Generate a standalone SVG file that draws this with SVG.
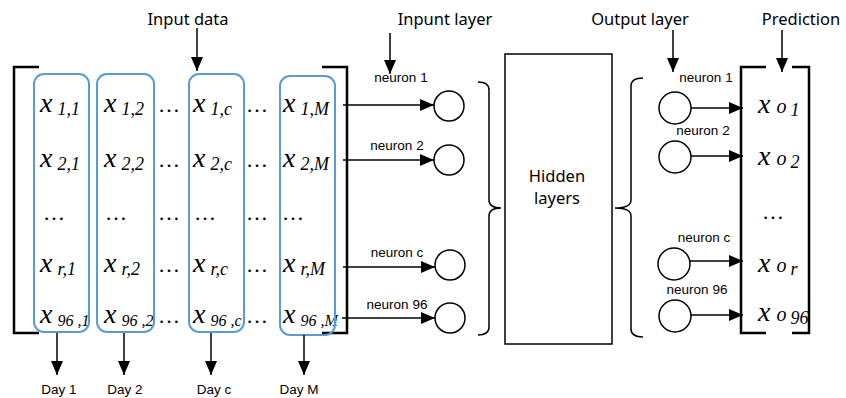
<svg xmlns="http://www.w3.org/2000/svg" width="846" height="398" viewBox="0 0 846 398">
<defs>
<marker id="ah" markerUnits="userSpaceOnUse" markerWidth="14" markerHeight="12" refX="14" refY="6" orient="auto"><path d="M0,0 L14,6 L0,12 z" fill="#000"/></marker>
<style>
.lbl{font-family:"Noto Sans","Open Sans",sans-serif;font-size:16.5px;fill:#000;text-anchor:middle}
.sm{font-family:"Liberation Sans",Arial,sans-serif;font-size:13.5px;fill:#000;text-anchor:middle}
.mx{font-family:"Liberation Serif","Times New Roman",serif;font-style:italic;font-size:28px;fill:#000}
.sb{font-size:18px}
.sb96{font-size:16px}
.dots{font-family:"Liberation Serif","Times New Roman",serif;font-size:22px;fill:#000}
.col{fill:none;stroke:#5b9bd5;stroke-width:2}
.brk{fill:none;stroke:#000;stroke-width:2.5}
.ln{fill:none;stroke:#000;stroke-width:1.5}
.arr{fill:none;stroke:#000;stroke-width:1.5;marker-end:url(#ah)}
.neu{fill:#fff;stroke:#000;stroke-width:1.5}
</style>
</defs>
<rect width="846" height="398" fill="#fff"/>

<g id="labels">
<text class="lbl" x="188" y="25">Input data</text>
<text class="lbl" x="445" y="25">Inpunt layer</text>
<text class="lbl" x="640" y="25">Output layer</text>
<text class="lbl" x="801" y="25">Prediction</text>
</g>

<g id="input-matrix">
<path class="brk" d="M39,67 H14 V333 H39"/>
<path class="brk" d="M322,67 H347 V333 H322"/>
<g id="matrix-text">
<text class="mx" x="40" y="112">x<tspan class="sb" dx="5" dy="3">1,1</tspan></text>
<text class="mx" x="104" y="112">x<tspan class="sb" dx="5" dy="3">1,2</tspan></text>
<text class="dots" x="158" y="112">…</text>
<text class="mx" x="193" y="112">x<tspan class="sb" dx="5" dy="3">1,c</tspan></text>
<text class="dots" x="246" y="112">…</text>
<text class="mx" x="283" y="112">x<tspan class="sb" dx="5" dy="3">1,M</tspan></text>

<text class="mx" x="40" y="167">x<tspan class="sb" dx="5" dy="3">2,1</tspan></text>
<text class="mx" x="104" y="167">x<tspan class="sb" dx="5" dy="3">2,2</tspan></text>
<text class="dots" x="158" y="167">…</text>
<text class="mx" x="193" y="167">x<tspan class="sb" dx="5" dy="3">2,c</tspan></text>
<text class="dots" x="246" y="167">…</text>
<text class="mx" x="283" y="167">x<tspan class="sb" dx="5" dy="3">2,M</tspan></text>

<text class="dots" x="43" y="220">…</text>
<text class="dots" x="105" y="220">…</text>
<text class="dots" x="158" y="220">…</text>
<text class="dots" x="194" y="220">…</text>
<text class="dots" x="246" y="220">…</text>
<text class="dots" x="282" y="220">…</text>

<text class="mx" x="40" y="272">x<tspan class="sb" dx="5" dy="3">r,1</tspan></text>
<text class="mx" x="104" y="272">x<tspan class="sb" dx="5" dy="3">r,2</tspan></text>
<text class="dots" x="158" y="272">…</text>
<text class="mx" x="193" y="272">x<tspan class="sb" dx="5" dy="3">r,c</tspan></text>
<text class="dots" x="246" y="272">…</text>
<text class="mx" x="283" y="272">x<tspan class="sb" dx="5" dy="3">r,M</tspan></text>

<text class="mx" x="40" y="323">x<tspan class="sb96" dx="5" dy="3">96 ,1</tspan></text>
<text class="mx" x="104" y="323">x<tspan class="sb96" dx="5" dy="3">96 ,2</tspan></text>
<text class="dots" x="158" y="323">…</text>
<text class="mx" x="193" y="323">x<tspan class="sb96" dx="5" dy="3">96 ,c</tspan></text>
<text class="dots" x="246" y="323">…</text>
<text class="mx" x="283" y="323">x<tspan class="sb96" dx="5" dy="3">96 ,M</tspan></text>
</g>
<g id="day-columns">
<rect id="day1" class="col" x="34" y="74" width="55" height="258" rx="10"/>
<rect id="day2" class="col" x="97" y="74" width="57" height="258" rx="10"/>
<rect id="dayc" class="col" x="189" y="74" width="55" height="258" rx="10"/>
<rect id="dayM" class="col" x="280" y="76" width="55" height="259" rx="10"/>
</g>
<text class="sm" x="59" y="394">Day 1</text>
<text class="sm" x="125" y="394">Day 2</text>
<text class="sm" x="214" y="394">Day c</text>
<text class="sm" x="299" y="394">Day M</text>
</g>

<g id="input-layer">
<text class="sm" x="401" y="82">neuron 1</text>
<text class="sm" x="397" y="150">neuron 2</text>
<text class="sm" x="397" y="257">neuron c</text>
<text class="sm" x="397" y="309">neuron 96</text>
<circle class="neu" cx="449" cy="106" r="15"/>
<circle class="neu" cx="449" cy="160" r="15"/>
<circle class="neu" cx="450" cy="265" r="15"/>
<circle class="neu" cx="450" cy="318" r="15"/>
<path class="ln" d="M478,82 Q489,82 489,90 L489,200 Q489,208 501,208 Q489,208 489,216 L489,327 Q489,335 478,335"/>
</g>

<g id="hidden-layers">
<rect class="ln" x="505" y="54" width="107" height="290" fill="none"/>
<text class="lbl" x="557" y="182">Hidden</text>
<text class="lbl" x="557" y="204">layers</text>
</g>

<g id="output-layer">
<path class="ln" d="M643,78 Q631,78 631,86 L631,200 Q631,208 615,208 Q631,208 631,216 L631,329 Q631,337 643,337"/>
<text class="sm" x="706" y="82">neuron 1</text>
<text class="sm" x="703" y="135">neuron 2</text>
<text class="sm" x="704" y="242">neuron c</text>
<text class="sm" x="697" y="294">neuron 96</text>
<circle class="neu" cx="675" cy="108" r="16"/>
<circle class="neu" cx="675" cy="157" r="16"/>
<circle class="neu" cx="674" cy="264" r="16"/>
<circle class="neu" cx="675" cy="316" r="16"/>
</g>

<g id="prediction">
<path class="brk" d="M766,67 H741 V333 H766"/>
<path class="brk" d="M792,67 H809 V333 H792"/>
<text class="mx" x="758" y="113">x<tspan font-size="20" dx="6">o</tspan><tspan class="sb" dx="4" dy="3">1</tspan></text>
<text class="mx" x="758" y="165">x<tspan font-size="20" dx="6">o</tspan><tspan class="sb" dx="4" dy="3">2</tspan></text>
<text class="dots" x="762" y="219">…</text>
<text class="mx" x="758" y="272">x<tspan font-size="20" dx="6">o</tspan><tspan class="sb" dx="4" dy="3">r</tspan></text>
<text class="mx" x="758" y="321">x<tspan font-size="20" dx="6">o</tspan><tspan class="sb" dx="4" dy="3">96</tspan></text>
</g>

<g id="connectors">
<line class="arr" x1="197" y1="28" x2="197" y2="71"/>
<line class="arr" x1="390" y1="33" x2="390" y2="74"/>
<line class="arr" x1="673" y1="30" x2="673" y2="72"/>
<line class="arr" x1="782" y1="30" x2="782" y2="72"/>
<line class="arr" x1="57" y1="333" x2="57" y2="375"/>
<line class="arr" x1="124" y1="333" x2="124" y2="375"/>
<line class="arr" x1="211" y1="333" x2="211" y2="375"/>
<line class="arr" x1="304" y1="335" x2="304" y2="375"/>
<line class="arr" x1="343" y1="105" x2="434" y2="105"/>
<line class="arr" x1="343" y1="160" x2="434" y2="160"/>
<line class="arr" x1="343" y1="267" x2="435" y2="267"/>
<line class="arr" x1="342" y1="318" x2="435" y2="318"/>
<line class="arr" x1="691" y1="108" x2="743" y2="108"/>
<line class="arr" x1="691" y1="156" x2="743" y2="156"/>
<line class="arr" x1="690" y1="261" x2="743" y2="261"/>
<line class="arr" x1="691" y1="315" x2="743" y2="315"/>
</g>
</svg>
